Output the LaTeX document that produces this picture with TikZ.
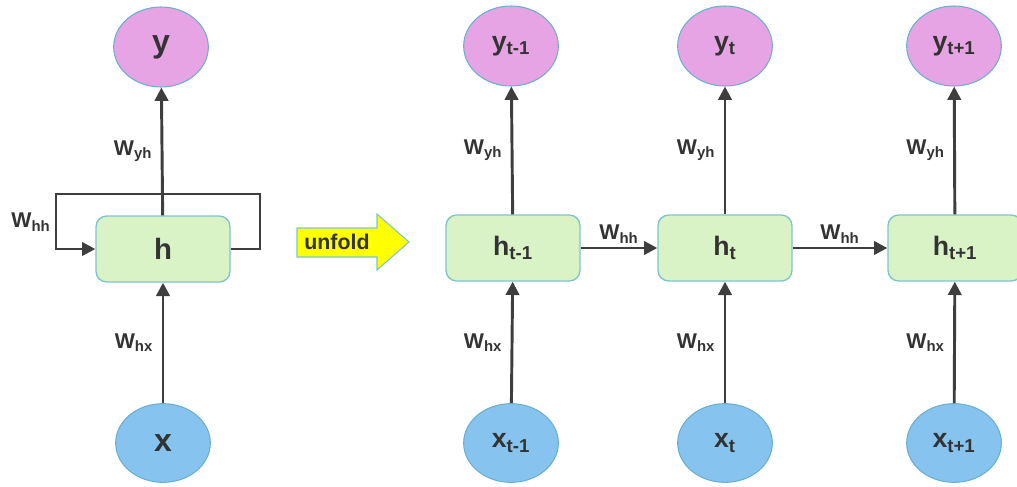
\documentclass[tikz,border=0pt]{standalone}
\usepackage{fontspec}
\setmainfont{Liberation Sans}
\usetikzlibrary{arrows.meta,shapes.geometric}
\definecolor{boxfill}{HTML}{D9F2C6}
\definecolor{boxline}{HTML}{7EC4CE}
\definecolor{pinkfill}{HTML}{E7A4E4}
\definecolor{bluefill}{HTML}{86C4EF}
\definecolor{ringline}{HTML}{6AAFD2}
\definecolor{wirec}{HTML}{3E3E3E}
\definecolor{txt}{HTML}{333333}
\definecolor{unfoldfill}{HTML}{FFFF00}
\newcommand{\wlbl}[1]{W\textsubscript{#1}}

\begin{document}
\begin{tikzpicture}[x=0.75pt, y=-0.75pt,
    hbox/.style={draw=boxline, fill=boxfill, line width=1pt, rounded corners=8pt,
        minimum width=100.5pt, minimum height=49.5pt, text=txt},
    yout/.style={ellipse, draw=ringline, fill=pinkfill, line width=0.8pt,
        minimum width=71pt, minimum height=60pt, text=txt},
    xin/.style={ellipse, draw=ringline, fill=bluefill, line width=0.8pt,
        minimum width=71pt, minimum height=59pt, text=txt},
    wire/.style={draw=wirec, line width=2.2pt, -{Triangle[length=10pt, width=10pt]}},
    wtext/.style={text=txt, font=\fontsize{16}{18}\selectfont\bfseries}]
    \useasboundingbox (0,0) rectangle (1017,486);

    % folded network
    \node[yout, font=\fontsize{24}{28}\selectfont\bfseries] (y0) at (161,47) {y};
    \node[hbox, font=\fontsize{22}{26}\selectfont\bfseries] (h0) at (163,249) {h};
    \node[xin, font=\fontsize{24}{28}\selectfont\bfseries] (x0) at (163,443) {x};
    \draw[wire] (x0) -- (h0) node[wtext, midway, left=3pt] (whx0) {\wlbl{hx}};
    \draw[wire] (h0) -- (y0) node[wtext, midway, left=3pt] (wyh0) {\wlbl{yh}};
    \coordinate (r0) at (260,249);
    \coordinate (l0) at (56,249);
    \draw[wire] (h0.east) -- (r0) |- (56,194) -- (l0) -- (h0.west);
    \node[wtext] (whh0) at (31,222) {\wlbl{hh}};

    % unfold arrow
    \draw[fill=unfoldfill, draw=boxline, line width=0.8pt]
        (297,228) -- (377,228) -- (377,214) -- (409,242) -- (377,270) -- (377,257) -- (297,257) -- cycle;
    \node[text=txt, font=\fontsize{16}{18}\selectfont\bfseries] (unfold) at (337,242) {unfold};

    % unfolded network
    \node[yout, font=\fontsize{20}{24}\selectfont\bfseries] (y1) at (511,46) {y\textsubscript{t-1}};
    \node[hbox, font=\fontsize{20}{24}\selectfont\bfseries] (h1) at (513,248) {h\textsubscript{t-1}};
    \node[xin, font=\fontsize{20}{24}\selectfont\bfseries] (x1) at (511,443) {x\textsubscript{t-1}};

    \node[yout, font=\fontsize{20}{24}\selectfont\bfseries] (y2) at (725,46) {y\textsubscript{t}};
    \node[hbox, font=\fontsize{20}{24}\selectfont\bfseries] (h2) at (725,248) {h\textsubscript{t}};
    \node[xin, font=\fontsize{20}{24}\selectfont\bfseries] (x2) at (725,443) {x\textsubscript{t}};

    \node[yout, font=\fontsize{20}{24}\selectfont\bfseries] (y3) at (954,46) {y\textsubscript{t+1}};
    \node[hbox, font=\fontsize{20}{24}\selectfont\bfseries] (h3) at (955,248) {h\textsubscript{t+1}};
    \node[xin, font=\fontsize{20}{24}\selectfont\bfseries] (x3) at (954,443) {x\textsubscript{t+1}};

    \draw[wire] (x1) -- (h1) node[wtext, midway, left=3pt] (whx1) {\wlbl{hx}};
    \draw[wire] (h1) -- (y1) node[wtext, midway, left=3pt] (wyh1) {\wlbl{yh}};
    \draw[wire] (x2) -- (h2) node[wtext, midway, left=3pt] (whx2) {\wlbl{hx}};
    \draw[wire] (h2) -- (y2) node[wtext, midway, left=3pt] (wyh2) {\wlbl{yh}};
    \draw[wire] (x3) -- (h3) node[wtext, midway, left=3pt] (whx3) {\wlbl{hx}};
    \draw[wire] (h3) -- (y3) node[wtext, midway, left=3pt] (wyh3) {\wlbl{yh}};

    \draw[wire] (h1) -- (h2) node[wtext, midway, above=-1pt] (whh1) {\wlbl{hh}};
    \draw[wire] (h2) -- (h3) node[wtext, midway, above=-1pt] (whh2) {\wlbl{hh}};
\end{tikzpicture}
\end{document}
